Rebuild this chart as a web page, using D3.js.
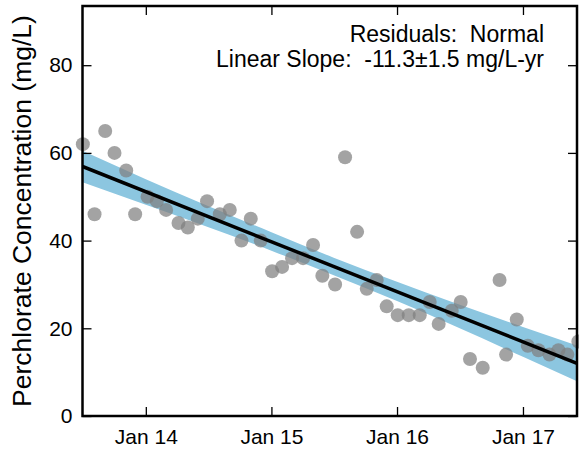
<!DOCTYPE html>
<html>
<head>
<meta charset="utf-8">
<script src="https://cdn.jsdelivr.net/npm/d3@7"></script>
<style>
    body { margin: 0; background: white; }
    text { font-family: "Liberation Sans", Arial, sans-serif; fill: black; }
</style>
</head>
<body>
<svg id="vis" width="579" height="450"></svg>
<script>
var vis = d3.select("#vis");
var parse = d3.timeParse("%Y-%m-%d");

// monthly samples
var sampleDates = [
    "2013-07-02", "2013-08-05", "2013-09-05", "2013-10-02", "2013-11-05", "2013-12-01",
    "2014-01-06", "2014-02-02", "2014-03-01", "2014-04-06", "2014-05-03", "2014-06-01",
    "2014-06-28", "2014-08-04", "2014-09-02", "2014-10-06", "2014-11-02", "2014-12-01",
    "2015-01-03", "2015-02-01", "2015-03-02", "2015-04-03", "2015-05-02", "2015-05-29",
    "2015-07-05", "2015-08-03", "2015-09-07", "2015-10-05", "2015-11-03", "2015-12-02",
    "2016-01-03", "2016-02-04", "2016-03-07", "2016-04-05", "2016-05-01", "2016-06-08",
    "2016-07-04", "2016-07-31", "2016-09-06", "2016-10-25", "2016-11-13", "2016-12-14",
    "2017-01-15", "2017-02-15", "2017-03-19", "2017-04-14", "2017-05-10", "2017-06-11"
];
var concentrations = [
    62, 46, 65, 60, 56, 46,
    50, 49, 47, 44, 43, 45,
    49, 46, 47, 40, 45, 40,
    33, 34, 36, 36, 39, 32,
    30, 59, 42, 29, 31, 25,
    23, 23, 23, 26, 21, 24,
    26, 13, 11, 31, 14, 22,
    16, 15, 14, 15, 14, 17
];

// fitted trend and its confidence band
var fitDates = ["2013-07-01", "2017-06-07"];
var fitValues = [56.9, 12.0];
var bandDates = ["2013-07-01", "2014-01-01", "2015-01-01", "2015-07-01", "2016-01-01", "2017-01-01", "2017-06-07"];
var bandUpper = [60.5, 54.0, 41.9, 36.1, 30.6, 20.3, 16.1];
var bandLower = [53.3, 48.2, 37.7, 32.1, 26.2, 13.5, 7.9];

var xDomain = ["2013-07-01", "2017-06-07"];
var xTicks = ["2014-01-01", "2015-01-01", "2016-01-01", "2017-01-01"];
var yTicks = [0, 20, 40, 60, 80];
var yMax = 93.5;

var annotations = ["Residuals:  Normal", "Linear Slope:  -11.3\u00b11.5 mg/L-yr"];
var yTitle = "Perchlorate Concentration (mg/L)";

// plot frame
var plotL = 82.5, plotR = 577, plotT = 6, plotB = 416;

var x = d3.scaleTime().domain(xDomain.map(parse)).range([plotL, plotR]);
var y = d3.scaleLinear().domain([0, yMax]).range([plotB, plotT]);

vis.append("clipPath").attr("id", "clip")
    .append("rect")
    .attr("x", plotL).attr("y", plotT)
    .attr("width", plotR - plotL).attr("height", plotB - plotT);

// band
var band = bandDates.map((d, i) => ({ date: parse(d), lo: bandLower[i], hi: bandUpper[i] }));
vis.append("path")
    .datum(band)
    .attr("clip-path", "url(#clip)")
    .attr("fill", "#8cc6e0")
    .attr("d", d3.area()
        .curve(d3.curveMonotoneX)
        .x(d => x(d.date))
        .y0(d => y(d.lo))
        .y1(d => y(d.hi)));

// points
var pts = sampleDates.map((d, i) => ({ date: parse(d), value: concentrations[i] }));
vis.selectAll(".pt").data(pts).enter().append("circle")
    .attr("class", "pt")
    .attr("cx", d => x(d.date))
    .attr("cy", d => y(d.value))
    .attr("r", 7)
    .attr("fill", "#808080")
    .attr("fill-opacity", 0.72);

// trend line
var fit = fitDates.map((d, i) => ({ date: parse(d), value: fitValues[i] }));
vis.append("path")
    .datum(fit)
    .attr("clip-path", "url(#clip)")
    .attr("fill", "none")
    .attr("stroke", "black")
    .attr("stroke-width", 3.5)
    .attr("d", d3.line().x(d => x(d.date)).y(d => y(d.value)));

// axes, ticks inward on all four sides
var tickLen = 9;
var xAxisB = d3.axisBottom(x).tickValues(xTicks.map(parse)).tickFormat(d3.timeFormat("Jan %y"))
    .tickSizeInner(-tickLen).tickSizeOuter(0).tickPadding(13);
var xAxisT = d3.axisTop(x).tickValues(xTicks.map(parse)).tickFormat("")
    .tickSizeInner(-tickLen).tickSizeOuter(0);
var yAxisL = d3.axisLeft(y).tickValues(yTicks)
    .tickSizeInner(-tickLen).tickSizeOuter(0).tickPadding(10);
var yAxisR = d3.axisRight(y).tickValues(yTicks).tickFormat("")
    .tickSizeInner(-tickLen).tickSizeOuter(0);

function styleAxis(g) {
    g.select(".domain").remove();
    g.selectAll(".tick line").attr("stroke", "black").attr("stroke-width", 1.3);
    g.selectAll(".tick text").attr("font-size", "21px").attr("font-family", "Liberation Sans, Arial, sans-serif");
}

vis.append("g").attr("transform", `translate(0 ${plotB})`).call(xAxisB).call(styleAxis);
vis.append("g").attr("transform", `translate(0 ${plotT})`).call(xAxisT).call(styleAxis);
vis.append("g").attr("transform", `translate(${plotL} 0)`).call(yAxisL).call(styleAxis);
vis.append("g").attr("transform", `translate(${plotR} 0)`).call(yAxisR).call(styleAxis);

vis.append("rect")
    .attr("x", plotL).attr("y", plotT)
    .attr("width", plotR - plotL).attr("height", plotB - plotT)
    .attr("fill", "none")
    .attr("stroke", "black")
    .attr("stroke-width", 2.5);

// annotation
vis.selectAll(".note").data(annotations).enter().append("text")
    .attr("class", "note")
    .attr("x", 544)
    .attr("y", (d, i) => 42 + i * 25)
    .attr("text-anchor", "end")
    .attr("font-size", "23px")
    .style("white-space", "pre")
    .text(d => d);

// y title
vis.append("text")
    .attr("transform", `translate(31 ${(plotT + plotB) / 2}) rotate(-90)`)
    .attr("text-anchor", "middle")
    .attr("font-size", "26.5px")
    .text(yTitle);
</script>
</body>
</html>
